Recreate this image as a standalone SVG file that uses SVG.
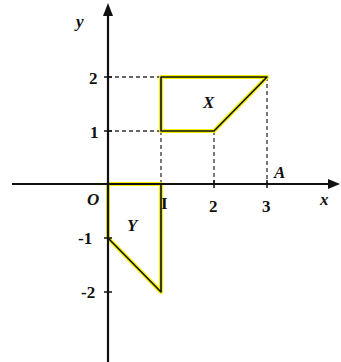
<svg xmlns="http://www.w3.org/2000/svg" width="341" height="362" viewBox="0 0 341 362">
<defs>
<style>
.ax{stroke:#111;stroke-width:2.2;fill:none}
.ds{stroke:#333;stroke-width:1.3;stroke-dasharray:4,3;fill:none}
.hl{stroke:#f2f000;stroke-width:4;fill:none;stroke-linejoin:round}
.sh{stroke:#111;stroke-width:1.6;fill:none;stroke-linejoin:round}
.t{font-family:"Liberation Serif",serif;font-size:17px;font-weight:bold;fill:#111}
.i{font-style:italic}
.tk{stroke:#111;stroke-width:1.5}
</style>
</defs>
<rect width="341" height="362" fill="#fff"/>
<g id="connectors">
<line class="ds" x1="108" y1="77" x2="161" y2="77"/>
<line class="ds" x1="108" y1="131" x2="161" y2="131"/>
<line class="ds" x1="161" y1="131" x2="161" y2="184"/>
<line class="ds" x1="214" y1="131" x2="214" y2="184"/>
<line class="ds" x1="267" y1="77" x2="267" y2="184"/>
</g>
<g id="X">
<polygon class="hl" points="161,77 267,77 214,131 161,131"/>
<polygon class="sh" points="161,77 267,77 214,131 161,131"/>
<text class="t i" x="203" y="108">X</text>
</g>
<g id="Y">
<polygon class="hl" points="108,184 161,184 161,292 108,238"/>
<polygon class="sh" points="108,184 161,184 161,292 108,238"/>
<text class="t i" x="127" y="231">Y</text>
</g>
<g id="axes">
<line class="ax" x1="12" y1="184" x2="336" y2="184"/>
<polygon points="340,184 328,179 328,189" fill="#111"/>
<line class="ax" x1="108" y1="362" x2="108" y2="8"/>
<polygon points="108,3 103,16 113,16" fill="#111"/>
<line class="tk" x1="104" y1="77" x2="112" y2="77"/>
<line class="tk" x1="104" y1="131" x2="112" y2="131"/>
<line class="tk" x1="104" y1="238" x2="112" y2="238"/>
<line class="tk" x1="104" y1="292" x2="112" y2="292"/>
<line class="tk" x1="214" y1="180" x2="214" y2="188"/>
<line class="tk" x1="267" y1="180" x2="267" y2="188"/>
</g>
<g id="labels">
<text class="t i" x="76" y="27">y</text>
<text class="t i" x="320" y="205">x</text>
<text class="t i" x="87" y="205">O</text>
<text class="t" x="161" y="209">I</text>
<text class="t" x="209" y="212">2</text>
<text class="t" x="262" y="212">3</text>
<text class="t i" x="274" y="178">A</text>
<text class="t" x="89" y="84">2</text>
<text class="t" x="90" y="138">1</text>
<text class="t" x="78" y="244">-1</text>
<text class="t" x="81" y="298">-2</text>
</g>
</svg>
